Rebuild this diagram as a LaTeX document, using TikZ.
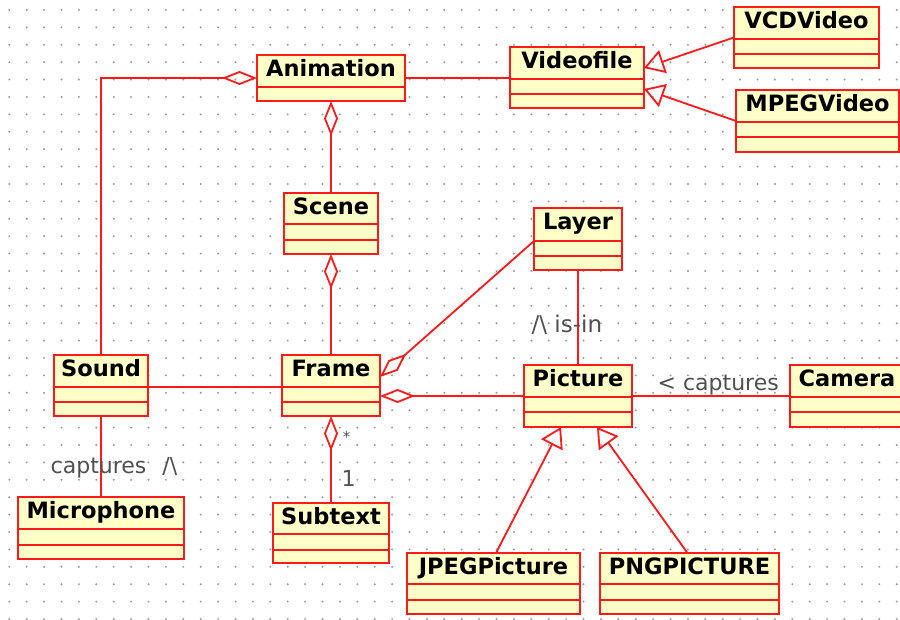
\documentclass[tikz,border=0pt]{standalone}
\usepackage{fontspec}
\setmainfont{DejaVu Sans}
\usetikzlibrary{arrows.meta,calc}

\definecolor{umlred}{HTML}{FF1A1A}
\definecolor{umlfill}{HTML}{FFFFC8}
\definecolor{labelgray}{HTML}{505050}
\definecolor{griddot}{HTML}{9A9A9A}

\tikzset{
  classbox/.style={rectangle, draw=umlred, fill=umlfill, line width=2pt,
                   inner sep=0pt, outer sep=0pt},
  classrule/.style={draw=umlred, line width=2pt},
  classname/.style={anchor=base, inner sep=0pt,
                    font=\fontsize{22.5}{26}\selectfont\bfseries},
  assoc/.style={draw=umlred, line width=1.8pt},
  aggr/.style={assoc, -{Diamond[open, length=35pt, width=14pt]}},
  gener/.style={assoc, -{Triangle[open, length=20pt, width=24pt]}},
  role/.style={anchor=base west, inner sep=0pt, text=labelgray,
               font=\fontsize{22}{26}\selectfont},
}

% #1 name, #2 left, #3 top, #4 right, #5 bottom, #6 divider rows, #7 class name
\newcommand\umlclass[7]{%
  \node[classbox, minimum width={(#4-#2)*1pt}, minimum height={(#5-#3)*1pt}]
    (#1) at ({(#2+#4)/2},{(#3+#5)/2}) {};
  \foreach \dy in {#6} \draw[classrule] (#2,\dy) -- (#4,\dy);
  \node[classname] (#1-name) at ({(#2+#4)/2},{#3+21.5}) {#7};
}

\begin{document}
\begin{tikzpicture}[x=1pt, y=-1pt]
  \useasboundingbox (0,0) rectangle (900,620);
  \clip (0,0) rectangle (900,620);
  \fill[white] (0,0) rectangle (900,620);

  % dotted drawing grid
  \foreach \i in {0,...,51}
    \foreach \j in {0,...,35}
      \fill[griddot] ({9.3+17.4*\i},{10+17.4*\j}) circle (1.1pt);

  % classes
  \umlclass{anim}{257}{55}{405}{101}{87}{Animation}
  \umlclass{vf}{510}{47}{644}{108}{79,94}{Videofile}
  \umlclass{vcd}{734}{7}{879}{68}{39,54}{VCDVideo}
  \umlclass{mpeg}{736}{90}{899}{152}{122,137}{MPEGVideo}
  \umlclass{scene}{284}{193}{378}{254}{224,240}{Scene}
  \umlclass{layer}{534}{208}{622}{270}{241,256}{Layer}
  \umlclass{snd}{54}{355}{148}{416}{387,402}{Sound}
  \umlclass{frame}{282}{355}{380}{416}{387,402}{Frame}
  \umlclass{pic}{524}{365}{632}{427}{397,412}{Picture}
  \umlclass{cam}{790}{365}{904}{427}{397,412}{Camera}
  \umlclass{mic}{18}{497}{184}{559}{529,545}{Microphone}
  \umlclass{sub}{273}{503}{389}{563}{534,550}{Subtext}
  \umlclass{jpeg}{407}{553}{580}{614}{584,600}{JPEGPicture}
  \umlclass{png}{600}{553}{779}{614}{584,600}{PNGPICTURE}

  % plain associations
  \draw[assoc] (anim.east) -- (anim.east -| vf.west);
  \draw[assoc] ([yshift=-1.5pt]snd.east) -- ([yshift=-1.5pt]frame.west);
  \draw[assoc] (snd.south) -- (snd.south |- mic.north);
  \draw[assoc] (layer.south) -- (layer.south |- pic.north);
  \draw[assoc] (pic.east) -- (cam.west);

  % aggregations
  \draw[aggr] (snd.north) |- (anim.west);
  \draw[aggr] (scene.north) -- (anim.south);
  \draw[aggr] (frame.north) -- (scene.south);
  \draw[aggr] (sub.north) -- (frame.south);
  \draw[aggr] ([yshift=-2pt]layer.west) -- ([yshift=8.5pt]frame.east);
  \draw[aggr] (pic.west) -- (pic.west -| frame.east);

  % generalizations
  \draw[gener] (vcd.west) -- ([yshift=9.5pt]vf.east);
  \draw[gener] (mpeg.west) -- ([yshift=-11.5pt]vf.east);
  \draw[gener] ([xshift=2.5pt]jpeg.north) -- ([xshift=-17pt]pic.south);
  \draw[gener] ([xshift=-2pt]png.north) -- ([xshift=19pt]pic.south);

  % association labels
  \node[role] (mic-role) at (50.5,473.5) {captures\hspace{16pt}/\textbackslash};
  \node[role, font=\fontsize{23}{27}\selectfont] (layer-role) at (531.5,333) {/\textbackslash{} is-in};
  \node[role] (cam-role) at (657.5,390) {< captures};
  \node[role, anchor=center, font=\fontsize{15}{18}\selectfont] (sub-many) at (346.5,437) {*};
  \node[role] (sub-one) at (341.5,486.5) {1};
\end{tikzpicture}
\end{document}
